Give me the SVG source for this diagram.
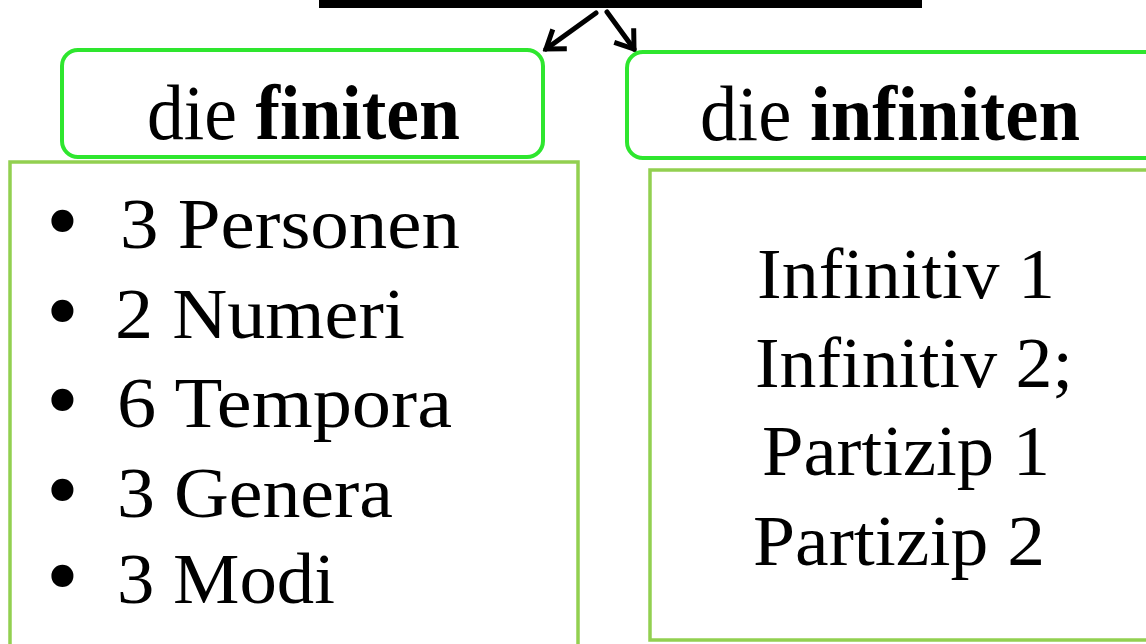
<svg xmlns="http://www.w3.org/2000/svg" width="1146" height="644" viewBox="0 0 1146 644">
  <style>
    .hdr { fill: #ffffff; stroke: #2ee62e; stroke-width: 4; }
    .box { fill: #ffffff; stroke: #92d050; stroke-width: 3.5; }
    .t { font-family: "Liberation Serif", "Times New Roman", serif; fill: #000000; }
    .bul { font-family: "DejaVu Sans", sans-serif; font-size: 76px; fill: #000000; }
    .conn { stroke: #000000; stroke-width: 5; fill: none; stroke-linecap: round; }
  </style>
  <defs>
    <marker id="chev" viewBox="0 0 30 30" refX="26" refY="15" markerWidth="30" markerHeight="30" markerUnits="userSpaceOnUse" orient="auto">
      <path d="M9,3 L26,15 L9,27" fill="none" stroke="#000000" stroke-width="5" stroke-linejoin="miter"/>
    </marker>
  </defs>
  <rect width="1146" height="644" fill="#ffffff"/>

  <g id="top-bar">
    <rect x="319" y="0" width="603" height="8" fill="#000000"/>
  </g>

  <g id="connectors">
    <line class="conn" x1="596" y1="13" x2="546" y2="49" marker-end="url(#chev)"/>
    <line class="conn" x1="607" y1="12" x2="634" y2="49" marker-end="url(#chev)"/>
  </g>

  <g id="finite-header">
    <rect class="hdr" x="62" y="50" width="481" height="107" rx="16"/>
    <text class="t" x="147" y="139" font-size="78" textLength="313" lengthAdjust="spacingAndGlyphs">die <tspan font-weight="bold">finiten</tspan></text>
  </g>

  <g id="infinite-header">
    <rect class="hdr" x="627" y="52" width="540" height="106" rx="16"/>
    <text class="t" x="700" y="140" font-size="78" textLength="380" lengthAdjust="spacingAndGlyphs">die <tspan font-weight="bold">infiniten</tspan></text>
  </g>

  <g id="finite-list">
    <rect class="box" x="10" y="162" width="568" height="500"/>
    <text class="bul" x="40" y="249">•</text>
    <text class="bul" x="40" y="339">•</text>
    <text class="bul" x="40" y="428">•</text>
    <text class="bul" x="40" y="518">•</text>
    <text class="bul" x="40" y="604">•</text>
    <g class="t" font-size="72">
      <text x="120" y="248" textLength="340" lengthAdjust="spacingAndGlyphs">3 Personen</text>
      <text x="115" y="338" textLength="290" lengthAdjust="spacingAndGlyphs">2 Numeri</text>
      <text x="117" y="427" textLength="335" lengthAdjust="spacingAndGlyphs">6 Tempora</text>
      <text x="117" y="517" textLength="276" lengthAdjust="spacingAndGlyphs">3 Genera</text>
      <text x="117" y="603" textLength="218" lengthAdjust="spacingAndGlyphs">3 Modi</text>
    </g>
  </g>

  <g id="infinite-list">
    <rect class="box" x="650" y="170" width="510" height="470"/>
    <g class="t" font-size="72">
      <text x="757" y="298" textLength="298" lengthAdjust="spacingAndGlyphs">Infinitiv 1</text>
      <text x="755" y="387" textLength="318" lengthAdjust="spacingAndGlyphs">Infinitiv 2;</text>
      <text x="762" y="475" textLength="288" lengthAdjust="spacingAndGlyphs">Partizip 1</text>
      <text x="753" y="565" textLength="292" lengthAdjust="spacingAndGlyphs">Partizip 2</text>
    </g>
  </g>
</svg>
